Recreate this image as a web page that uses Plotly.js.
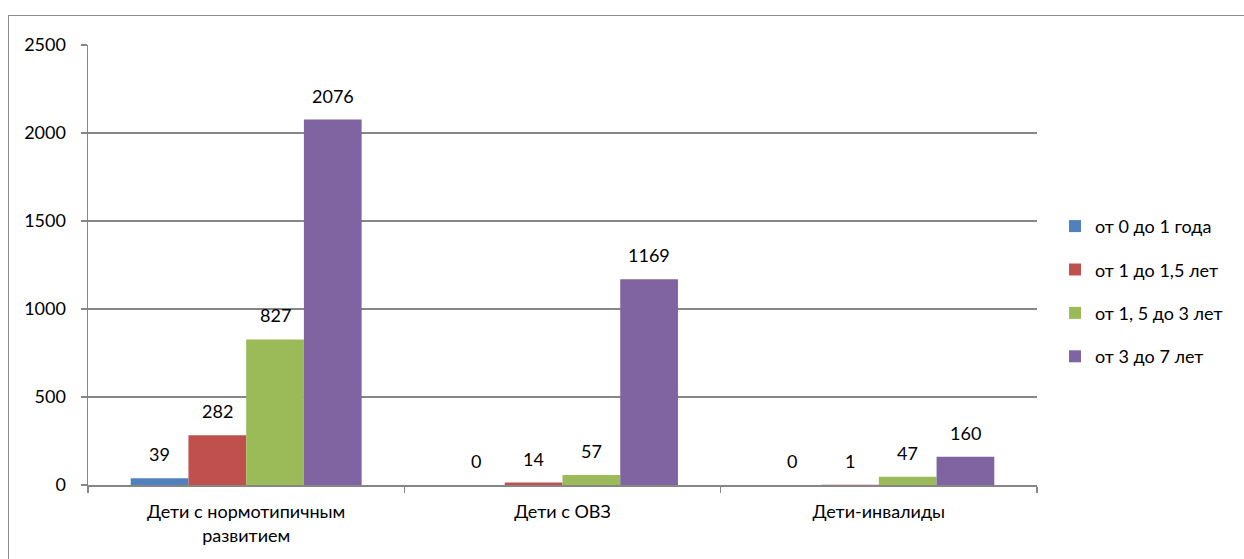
<!DOCTYPE html>
<html>
<head>
<meta charset="utf-8">
<script src="https://cdn.plot.ly/plotly-3.0.1.min.js"></script>
<style>
  html, body { margin: 0; padding: 0; background: #fff; }
  #wrap { position: relative; width: 1244px; height: 559px; }
  #chart { position: absolute; left: 0; top: 0; width: 1244px; height: 559px; }
  #frame { position: absolute; left: 8px; top: 15px; right: 0; bottom: 0;
           border-left: 1.5px solid #8c8c8c; border-top: 1.5px solid #8c8c8c; pointer-events: none; }
</style>
</head>
<body>
<div id="wrap">
  <div id="chart"></div>
  <div id="frame"></div>
</div>
<script>
const categories = ["Дети с нормотипичным<br>развитием", "Дети с ОВЗ", "Дети-инвалиды"];
const seriesNames = ["от 0 до 1 года", "от 1 до 1,5 лет", "от 1, 5 до 3 лет", "от 3 до 7 лет"];
const age0to1 = [39, 0, 0];
const age1to15 = [282, 14, 1];
const age15to3 = [827, 57, 47];
const age3to7 = [2076, 1169, 160];
const yTicks = [0, 500, 1000, 1500, 2000, 2500];

const seriesValues = [age0to1, age1to15, age15to3, age3to7];
const colors = ["#4F81BD", "#C0504D", "#9BBB59", "#8064A2"];
const FONT = "Lato, 'Open Sans', sans-serif";
const FS = 18;

const traces = seriesValues.map((vals, i) => ({
  type: "bar",
  name: seriesNames[i],
  x: categories,
  y: vals,
  marker: { color: colors[i], line: { width: 0 } },
  legendgroup: "g" + i,
  hoverinfo: "none"
}));

const catWidthPx = (1037 - 88) / categories.length;
const bargap = 0.27;
const barPx = catWidthPx * (1 - bargap) / seriesValues.length;
const annotations = [];
seriesValues.forEach((vals, i) => {
  vals.forEach((v, j) => {
    annotations.push({
      x: categories[j], y: v, xref: "x", yref: "y",
      text: String(v), showarrow: false,
      xanchor: "center", yanchor: "bottom",
      xshift: (i - 1.5) * barPx, yshift: 11,
      font: { family: FONT, size: FS, color: "#000" }
    });
  });
});

const layout = {
  width: 1244, height: 559,
  margin: { l: 88, r: 207, t: 45, b: 74 },
  paper_bgcolor: "#fff", plot_bgcolor: "#fff",
  font: { family: FONT, size: FS, color: "#000" },
  barmode: "group",
  bargap: bargap,
  bargroupgap: 0,
  showlegend: true,
  legend: {
    x: 1.019, xanchor: "left", y: 0.44, yanchor: "middle",
    font: { family: FONT, size: FS, color: "#000" },
    tracegroupgap: 17, itemwidth: 30,
    bgcolor: "rgba(0,0,0,0)"
  },
  xaxis: {
    type: "category",
    showline: true, linecolor: "#868686", linewidth: 1.5,
    ticks: "outside", ticklen: 6, tickcolor: "#868686", tickwidth: 1.5,
    tickson: "boundaries",
    showgrid: false, zeroline: false,
    ticklabelstandoff: 10,
    tickfont: { family: FONT, size: FS, color: "#000" }
  },
  yaxis: {
    range: [0, 2500],
    tickvals: yTicks, ticktext: yTicks.map(String),
    showline: true, linecolor: "#868686", linewidth: 1.5,
    ticks: "outside", ticklen: 6, tickcolor: "#868686", tickwidth: 1.5,
    showgrid: true, gridcolor: "#868686", gridwidth: 1.5,
    zeroline: false,
    ticklabelstandoff: 11,
    tickfont: { family: FONT, size: FS, color: "#000" }
  },
  annotations: annotations
};

Plotly.newPlot("chart", traces, layout, { displayModeBar: false, staticPlot: true });
</script>
</body>
</html>
